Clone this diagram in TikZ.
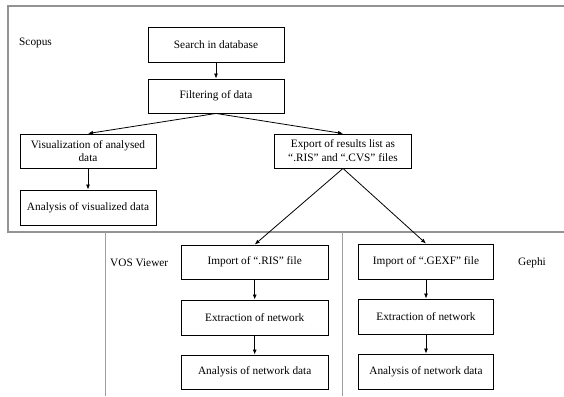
\documentclass[tikz,border=0pt]{standalone}
\usepackage{fontspec}
\setmainfont{Liberation Serif}
\usetikzlibrary{arrows.meta}
\begin{document}
\begin{tikzpicture}[x=1pt,y=-1pt,
  box/.style={draw=black,line width=0.9pt,minimum height=34pt,inner sep=2pt,align=center,font=\fontsize{11.3}{13.8}\selectfont},
  upbox/.style={box,minimum width=136pt},
  lbox/.style={box,minimum width=147pt},
  rbox/.style={box,minimum width=135pt},
  arr/.style={line width=0.8pt,-{Latex[length=5pt,width=4pt]}},
  frame/.style={draw=gray!85,line width=1.2pt},
  sep/.style={draw=gray!75,line width=0.9pt},
  lbl/.style={font=\fontsize{11.3}{13.8}\selectfont,inner sep=0pt}]
\useasboundingbox (0,0) rectangle (564,396);
% frames
\draw[frame] (564,6) -- (8,6) -- (8,232) -- (564,232);
\draw[sep] (105.4,232) -- (105.4,396);
\draw[sep] (342.4,232) -- (342.4,396);
% labels
\node[lbl,anchor=west] (scopus) at (19,43) {Scopus};
\node[lbl,anchor=west] (vos) at (110,263) {VOS Viewer};
\node[lbl] (gephi) at (532,263) {Gephi};
% upper boxes
\node[upbox,minimum height=35pt] (search) at (216,44.5) {Search in database};
\node[upbox] (filter) at (216,96) {Filtering of data};
\node[upbox] (vis) at (88,151) {Visualization of analysed\\data};
\node[upbox,minimum width=137pt] (export) at (343,151) {Export of results list as\\“.RIS” and “.CVS” files};
\node[upbox,minimum height=35pt] (anvis) at (88,207.5) {Analysis of visualized data};
% lower boxes
\node[lbox] (imp1) at (254.7,262) {Import of “.RIS” file};
\node[lbox,minimum height=35pt] (ext1) at (254.7,317.5) {Extraction of network};
\node[lbox] (an1) at (254.7,372) {Analysis of network data};
\node[rbox,minimum height=35pt] (imp2) at (426,261.5) {Import of “.GEXF” file};
\node[rbox,minimum height=35pt] (ext2) at (426,316.5) {Extraction of network};
\node[rbox,minimum height=35pt] (an2) at (426,371.5) {Analysis of network data};
% arrows
\draw[arr] (search) -- (filter);
\draw[arr] (filter.south) -- (vis.north);
\draw[arr] (filter.south) -- (export.north);
\draw[arr] (vis) -- (anvis);
\draw[arr] (export.south) -- (imp1.north);
\draw[arr] (export.south) -- (imp2.north);
\draw[arr] (imp1) -- (ext1);
\draw[arr] (ext1) -- (an1);
\draw[arr] (imp2) -- (ext2);
\draw[arr] (ext2) -- (an2);
\end{tikzpicture}
\end{document}
